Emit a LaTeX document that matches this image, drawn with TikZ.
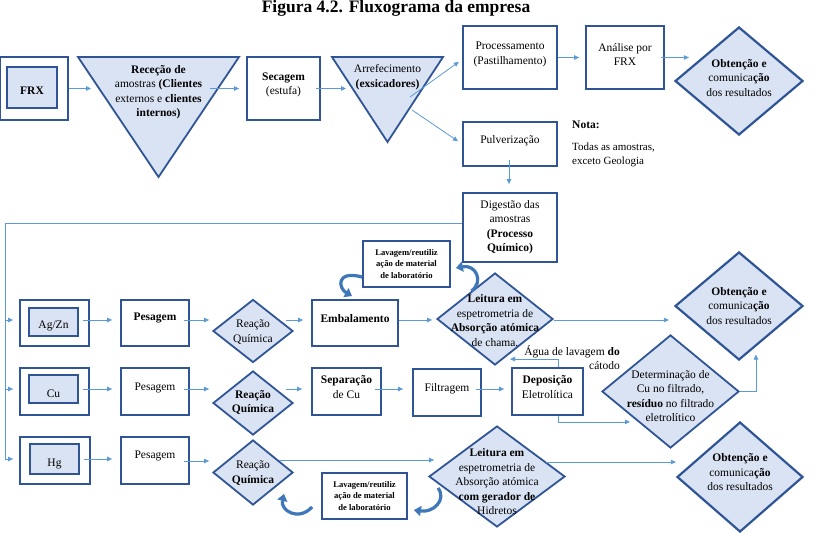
\documentclass[tikz,border=0pt]{standalone}
\usepackage{fontspec}
\setmainfont{Liberation Serif}
\usetikzlibrary{shapes.geometric,arrows.meta,calc}
\definecolor{dblue}{HTML}{2F5597}
\definecolor{lfill}{HTML}{DAE3F3}
\definecolor{lblue}{HTML}{5B9BD5}
\definecolor{cblue}{HTML}{3E78B8}
\begin{document}
\begin{tikzpicture}[x=1pt,y=-1pt,
  bx/.style={draw=dblue,line width=1.8pt,fill=white,inner sep=0pt},
  ibx/.style={draw=dblue,line width=1.2pt,fill=lfill,inner sep=0pt},
  dia/.style={diamond,draw=dblue,line width=1.8pt,fill=lfill,inner sep=0pt},
  tx/.style={align=center,font=\fontsize{11.5}{14.5}\selectfont,inner sep=0pt},
  stx/.style={align=center,font=\fontsize{8.6}{11.5}\selectfont\bfseries,inner sep=0pt},
  arr/.style={draw=lblue,line width=0.8pt,-{Triangle[length=5pt,width=4.5pt]}},
  carr/.style={draw=cblue,line width=3.2pt,-{Triangle[length=7pt,width=10pt]}}]
\useasboundingbox (0,0) rectangle (821,534);
\coordinate (r1) at (0,320);
\coordinate (r2) at (0,389);
\coordinate (r3) at (0,459);

% title
\node[font=\fontsize{17.5}{19}\selectfont\bfseries,anchor=base,inner sep=0pt] (title) at (396,13) {Figura 4.2. Fluxograma da empresa};

% ---------- top row ----------
\node[bx,minimum width=68pt,minimum height=63pt] (frxo) at (34,88.5) {};
\node[ibx,minimum width=50pt,minimum height=41pt] (frxi) at (32,87.5) {};
\node[tx] (frxt) at (32,91) {\textbf{FRX}};

\coordinate (ra) at (78,57); \coordinate (rb) at (239,57); \coordinate (rc) at (158.5,177);
\draw[draw=dblue,line width=1.8pt,fill=lfill] (ra) -- (rb) -- (rc) -- cycle;
\node[tx] (rect) at (158.5,92) {\textbf{Receção de}\\amostras \textbf{(Clientes}\\externos e \textbf{clientes}\\\textbf{internos)}};
\coordinate (recL) at (91,88.5);
\coordinate (recR) at (210,88.5);

\node[bx,minimum width=73pt,minimum height=63pt] (sec) at (283.5,88.5) {};
\node[tx] (sect) at (283.5,85) {\textbf{Secagem}\\(estufa)};

\coordinate (aa) at (332,57); \coordinate (ab) at (443,57); \coordinate (ac) at (387.5,142);
\draw[draw=dblue,line width=1.8pt,fill=lfill] (aa) -- (ab) -- (ac) -- cycle;
\node[tx] (arft) at (387.5,77) {Arrefecimento\\\textbf{(exsicadores)}};
\coordinate (arfL) at (346,88.5);
\coordinate (arfR1) at (410,97);
\coordinate (arfR2) at (412,110);

\node[bx,minimum width=94pt,minimum height=63pt] (proc) at (510,57.5) {};
\node[tx] (proct) at (510,54.5) {Processamento\\(Pastilhamento)};
\node[bx,minimum width=78pt,minimum height=63pt] (ana) at (625,57.5) {};
\node[tx] (anat) at (625,54.5) {Análise por\\FRX};
\node[dia,minimum width=128pt,minimum height=108pt,line width=2.2pt] (obt0) at (739,81) {};
\node[tx] (obt0t) at (739,78) {\textbf{Obtenção e}\\comunica\textbf{ção}\\dos resultados};

\node[bx,minimum width=94pt,minimum height=44pt] (pulv) at (510,144) {};
\node[tx] (pulvt) at (510,141) {Pulverização};
\node[tx,align=left,anchor=north west] (nota) at (572,121) {\textbf{Nota:}};
\node[tx,align=left,anchor=north west,font=\fontsize{11}{14}\selectfont] (notat) at (572,143) {Todas as amostras,\\exceto Geologia};

\node[bx,minimum width=94pt,minimum height=69pt] (dig) at (510,227.5) {};
\node[tx] (digt) at (510,227) {Digestão das\\amostras\\\textbf{(Processo}\\\textbf{Químico)}};

\draw[arr] (frxo.east) -- (recL);
\draw[arr] (recR) -- ($(sec.west)+(-7,0)$);
\draw[arr] ($(sec.east)+(-5,0)$) -- (arfL);
\draw[arr,shorten >=4pt] (arfR1) -- ($(proc.west)+(0,2)$);
\draw[arr,shorten >=5pt] (arfR2) -- (pulv.west);
\draw[arr] (proc.east) -- ($(ana.west)+(-6,0)$);
\draw[arr] ($(ana.east)+(-4,0)$) -- ($(ana.east)+(24,0)$);
\draw[arr,shorten >=8pt] ($(pulv.south)+(-1,-7)$) -- ($(dig.north)+(-1,0)$);

% bus
\coordinate (busT) at (5,223);
\coordinate (busB) at (5,459);
\draw[draw=lblue,line width=0.8pt] (dig.west |- busT) -- (busT) -- (busB);

% ---------- row 1 ----------
\node[bx,minimum width=69pt,minimum height=46pt] (agzo) at (54.5,323) {};
\node[ibx,minimum width=49pt,minimum height=28pt] (agzi) at (53.5,322) {};
\node[tx] (agzt) at (53.5,326) {Ag/Zn};
\node[bx,minimum width=68pt,minimum height=46pt] (pes1) at (155,323) {};
\node[tx] (pes1t) at (155,318) {\textbf{Pesagem}};
\node[dia,minimum width=80pt,minimum height=63pt] (rea1) at (253,331) {};
\node[tx] (rea1t) at (253,332) {Reação\\Química};
\node[bx,minimum width=86pt,minimum height=46pt] (emb) at (355,323) {};
\node[tx] (embt) at (355,319) {\textbf{Embalamento}};
\node[bx,minimum width=87pt,minimum height=46pt] (lav1) at (406.5,264) {};
\node[stx] (lav1t) at (406.5,264) {Lavagem/reutiliz\\ação de material\\de laboratório};
\node[dia,minimum width=116pt,minimum height=92pt] (lei1) at (495,319) {};
\node[tx] (lei1t) at (495,320.5) {\textbf{Leitura em}\\espetrometria de\\\textbf{Absorção atómica}\\de chama.};
\node[dia,minimum width=128pt,minimum height=108pt,line width=2.2pt] (obt1) at (739,306) {};
\node[tx] (obt1t) at (739,306) {\textbf{Obtenção e}\\comunica\textbf{ção}\\dos resultados};

\draw[arr,shorten >=6pt] (busT |- r1) -- (agzo.west |- r1);
\draw[arr] ($(agzi.east|-r1)+(4,0)$) -- ($(pes1.west|-r1)+(-8,0)$);
\draw[arr] ($(pes1.east|-r1)+(-6,0)$) -- ($(rea1.west|-r1)+(-3,0)$);
\draw[arr] ($(rea1.east|-r1)+(-8,0)$) -- ($(emb.west|-r1)+(-8,0)$);
\draw[arr] (emb.east|-r1) -- ($(lei1.west|-r1)+(-4,0)$);
\draw[arr] (lei1.east|-r1) -- ($(obt1.west|-r1)+(-5,0)$);
\draw[carr] ($(lav1.west)+(0,13)$) .. controls (336,270) and (338,288) .. ($(emb.north)+(-3,-3)$);
\draw[carr] ($(lei1.north)!0.4!(lei1.west)$) .. controls (484,282) and (476,264) .. ($(lav1.east)+(5,4)$);

% ---------- row 2 ----------
\node[bx,minimum width=69pt,minimum height=47pt] (cuo) at (54.5,391.5) {};
\node[ibx,minimum width=49pt,minimum height=28pt] (cui) at (53.5,389) {};
\node[tx] (cut) at (53.5,394) {Cu};
\node[bx,minimum width=68pt,minimum height=47pt] (pes2) at (155,391.5) {};
\node[tx] (pes2t) at (155,388) {Pesagem};
\node[dia,minimum width=80pt,minimum height=64pt] (rea2) at (253,403) {};
\node[tx] (rea2t) at (253,402.5) {\textbf{Reação}\\\textbf{Química}};
\node[bx,minimum width=69pt,minimum height=47pt] (sep) at (346.5,391.5) {};
\node[tx] (sept) at (346.5,387) {\textbf{Separação}\\de Cu};
\node[bx,minimum width=68pt,minimum height=47pt] (fil) at (447,392.5) {};
\node[tx] (filt) at (447,389) {Filtragem};
\node[bx,minimum width=71pt,minimum height=47pt] (dep) at (547.5,391.5) {};
\node[tx] (dept) at (547.5,387) {\textbf{Deposição}\\Eletrolítica};
\node[dia,minimum width=137pt,minimum height=113pt] (det) at (670.5,391.5) {};
\node[tx] (dett) at (670.5,396) {Determinação de\\Cu no filtrado,\\\textbf{resíduo} no filtrado\\eletrolítico};
\node[tx,align=right,anchor=north east] (agua) at (620,345) {Água de lavagem \textbf{do}\\cátodo};

\draw[arr,shorten >=6pt] (busT |- r2) -- (cuo.west |- r2);
\draw[arr] ($(cui.east|-r2)+(4,0)$) -- ($(pes2.west|-r2)+(-8,0)$);
\draw[arr] ($(pes2.east|-r2)+(-6,0)$) -- ($(rea2.west|-r2)+(-3,0)$);
\draw[arr] ($(rea2.east|-r2)+(-8,0)$) -- ($(sep.west|-r2)+(-9,0)$);
\draw[arr] ($(sep.east|-r2)+(-7,0)$) -- ($(fil.west|-r2)+(-9,0)$);
\draw[arr] ($(fil.east|-r2)+(-6,0)$) -- ($(dep.west|-r2)+(-7,0)$);
\draw[arr] ($(dep.north)+(10.5,0)$) -- ++(0,-8) -- ++(-48,0);
\draw[arr] ($(dep.south)+(10.5,0)$) -- ++(0,6) -- ++(72,0);
\draw[arr] (det.east) -- ++(16,0) -- ++(0,-37);

% ---------- row 3 ----------
\node[bx,minimum width=70pt,minimum height=47pt] (hgo) at (55,460.5) {};
\node[ibx,minimum width=49pt,minimum height=30pt] (hgi) at (54.5,459) {};
\node[tx] (hgt) at (54.5,464) {Hg};
\node[bx,minimum width=68pt,minimum height=47pt] (pes3) at (155,460.5) {};
\node[tx] (pes3t) at (155,456) {Pesagem};
\node[dia,minimum width=80pt,minimum height=65pt] (rea3) at (253,472.5) {};
\node[tx] (rea3t) at (253,473) {Reação\\\textbf{Química}};
\node[bx,minimum width=85pt,minimum height=46pt] (lav3) at (364.5,496) {};
\node[stx] (lav3t) at (364.5,496) {Lavagem/reutiliz\\ação de material\\de laboratório};
\node[dia,minimum width=136pt,minimum height=101pt] (lei3) at (497,476.5) {};
\node[tx] (lei3t) at (497,482) {\textbf{Leitura em}\\espetrometria de\\Absorção atómica\\\textbf{com gerador de}\\Hidretos};
\node[dia,minimum width=126pt,minimum height=110pt,line width=2.2pt] (obt3) at (740,477) {};
\node[tx] (obt3t) at (740,472.5) {\textbf{Obtenção e}\\comunica\textbf{ção}\\dos resultados};

\draw[arr,shorten >=6pt] (busB) -- (hgo.west |- busB);
\draw[arr] ($(hgi.east|-r3)+(4,0)$) -- ($(pes3.west|-r3)+(-8,0)$);
\draw[arr] ($(pes3.east|-r3)+(-6,2)$) -- ($(rea3.west|-r3)+(-3,2)$);
\draw[arr] ($(rea3.east|-r3)+(-15,1)$) -- ($(lei3.west|-r3)+(6,1)$);
\draw[arr] ($(lei3.east|-r3)+(-20,3)$) -- ($(obt3.west|-r3)+(0,3)$);
\draw[carr] ($(lav3.west)+(-9,11)$) .. controls (298,522) and (280,510) .. ($(rea3.south)+(31,-12)$);
\draw[carr] (438,488) .. controls (447,500) and (433,513) .. ($(lav3.east)+(6,14)$);
\end{tikzpicture}
\end{document}
